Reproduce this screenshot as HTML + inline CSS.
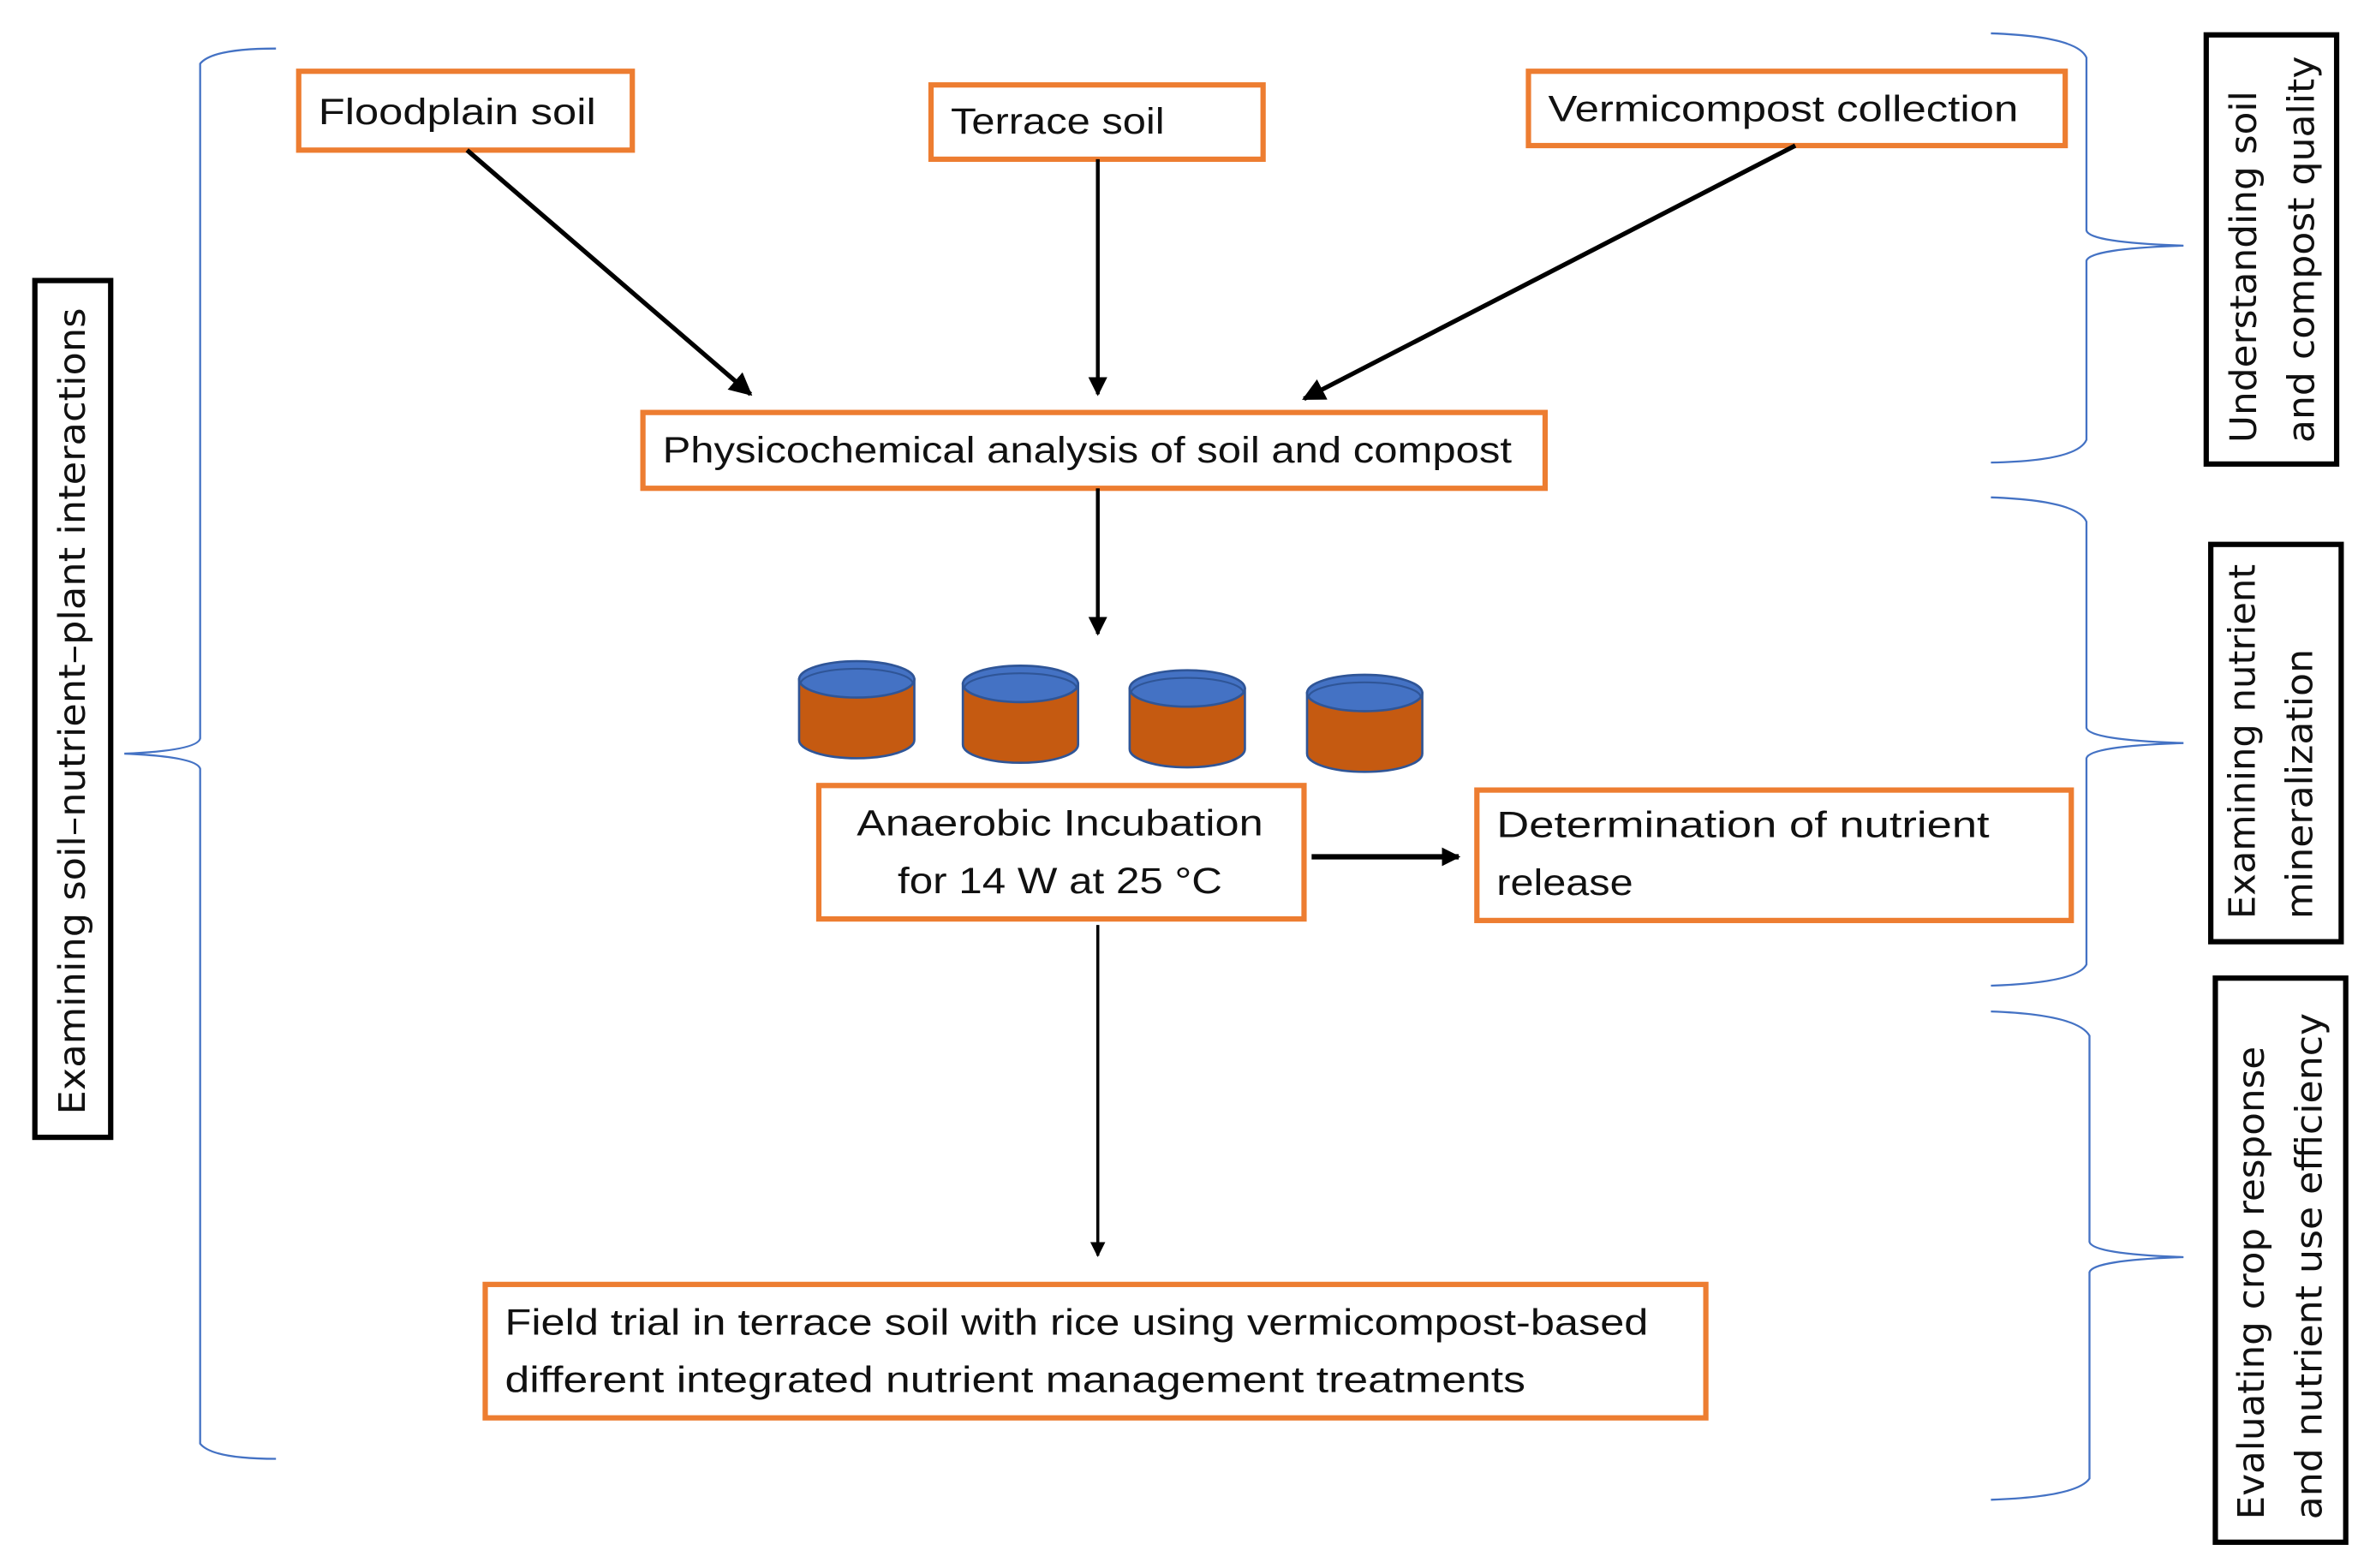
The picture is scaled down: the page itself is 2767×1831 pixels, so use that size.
<!DOCTYPE html>
<html><head><meta charset="utf-8"><style>
html,body{margin:0;padding:0;background:#fff;}
svg{display:block;}
.t{font-family:"Liberation Sans",sans-serif;font-size:24px;fill:#111;}
.r{font-family:"DejaVu Sans","Liberation Sans",sans-serif;font-size:24px;fill:#111;}
.ob{fill:#fff;stroke:#ED7D31;stroke-width:3.5;}
.kb{fill:#fff;stroke:#000;stroke-width:3.5;}
.br{fill:none;stroke:#4472C4;stroke-width:1.3;}
</style></head><body>
<svg width="2767" height="1831" viewBox="0 0 1563 1034" preserveAspectRatio="none" xmlns="http://www.w3.org/2000/svg">
<defs>
<marker id="ah" viewBox="0 0 10 10" refX="9" refY="5" markerWidth="5" markerHeight="5" orient="auto"><path d="M0,0 L10,5 L0,10 z" fill="#000"/></marker>
<marker id="ah2" viewBox="0 0 10 10" refX="9" refY="5" markerWidth="3.5" markerHeight="3.5" orient="auto"><path d="M0,0 L10,5 L0,10 z" fill="#000"/></marker>
<g id="cyl">
<path d="M-38,0 L-38,40 A38,12 0 0 0 38,40 L38,0 Z" fill="#C55A11" stroke="#2F5597" stroke-width="1.5"/>
<ellipse cx="0" cy="0" rx="38" ry="12" fill="#4472C4" stroke="#2F5597" stroke-width="1.5"/>
<path d="M-37,3 A37,10 0 0 1 37,3" fill="none" stroke="#2F5597" stroke-width="1.2"/>
</g>
</defs>

<!-- left bracket -->
<path class="br" d="M182,32 Q140,32 132,42 L132,487 Q130,495 82,497 Q130,499 132,507 L132,952 Q140,962 182,962"/>
<rect class="kb" x="23" y="185" width="50" height="565"/>
<text class="r" transform="translate(56,735) rotate(-90)" textLength="532" lengthAdjust="spacingAndGlyphs">Examining soil–nutrient–plant interactions</text>

<!-- right brackets -->
<path class="br" d="M1313,22 Q1370,24 1376,38 L1376,152 Q1378,160 1440,162 Q1378,164 1376,172 L1376,290 Q1370,304 1313,305"/>
<path class="br" d="M1313,328 Q1370,330 1376,344 L1376,480 Q1378,488 1440,490 Q1378,492 1376,500 L1376,636 Q1370,648 1313,650"/>
<path class="br" d="M1313,667 Q1370,669 1378,683 L1378,819 Q1380,827 1440,829 Q1380,831 1378,839 L1378,975 Q1370,987 1313,989"/>

<rect class="kb" x="1455" y="23" width="86" height="283"/>
<text class="r" transform="translate(1488,292) rotate(-90)" textLength="232" lengthAdjust="spacingAndGlyphs">Understanding soil</text>
<text class="r" transform="translate(1526,292) rotate(-90)" textLength="255" lengthAdjust="spacingAndGlyphs">and compost quality</text>

<rect class="kb" x="1458" y="359" width="86" height="262"/>
<text class="r" transform="translate(1487,606) rotate(-90)" textLength="234" lengthAdjust="spacingAndGlyphs">Examining nutrient</text>
<text class="r" transform="translate(1525,606) rotate(-90)" textLength="178" lengthAdjust="spacingAndGlyphs">mineralization</text>

<rect class="kb" x="1461" y="645" width="86" height="372"/>
<text class="r" transform="translate(1493,1002) rotate(-90)" textLength="312" lengthAdjust="spacingAndGlyphs">Evaluating crop response</text>
<text class="r" transform="translate(1531,1002) rotate(-90)" textLength="334" lengthAdjust="spacingAndGlyphs">and nutrient use efficiency</text>

<!-- boxes -->
<rect class="ob" x="197" y="47" width="220" height="52"/>
<text class="t" x="210" y="82" textLength="183" lengthAdjust="spacingAndGlyphs">Floodplain soil</text>
<rect class="ob" x="614" y="56" width="219" height="49"/>
<text class="t" x="627" y="88" textLength="141" lengthAdjust="spacingAndGlyphs">Terrace soil</text>
<rect class="ob" x="1008" y="47" width="354" height="49"/>
<text class="t" x="1021" y="80" textLength="310" lengthAdjust="spacingAndGlyphs">Vermicompost collection</text>
<rect class="ob" x="424" y="272" width="595" height="50"/>
<text class="t" x="437" y="305" textLength="560" lengthAdjust="spacingAndGlyphs">Physicochemical analysis of soil and compost</text>

<line x1="308" y1="99" x2="495" y2="260" stroke="#000" stroke-width="3" marker-end="url(#ah)"/>
<line x1="724" y1="105" x2="724" y2="260" stroke="#000" stroke-width="2.5" marker-end="url(#ah)"/>
<line x1="1184" y1="96" x2="860" y2="263" stroke="#000" stroke-width="3" marker-end="url(#ah)"/>
<line x1="724" y1="322" x2="724" y2="418" stroke="#000" stroke-width="2.5" marker-end="url(#ah)"/>

<use href="#cyl" x="565" y="448"/>
<use href="#cyl" x="673" y="451"/>
<use href="#cyl" x="783" y="454"/>
<use href="#cyl" x="900" y="457"/>

<rect class="ob" x="540" y="518" width="320" height="88"/>
<text class="t" x="565" y="551" textLength="268" lengthAdjust="spacingAndGlyphs">Anaerobic Incubation</text>
<text class="t" x="592" y="589" textLength="214" lengthAdjust="spacingAndGlyphs">for 14 W at 25 °C</text>

<line x1="865" y1="565" x2="962" y2="565" stroke="#000" stroke-width="3.5" marker-end="url(#ah2)"/>

<rect class="ob" x="974" y="521" width="392" height="86"/>
<text class="t" x="987" y="552" textLength="325" lengthAdjust="spacingAndGlyphs">Determination of nutrient</text>
<text class="t" x="987" y="590" textLength="90" lengthAdjust="spacingAndGlyphs">release</text>

<line x1="724" y1="610" x2="724" y2="828" stroke="#000" stroke-width="2" marker-end="url(#ah)"/>

<rect class="ob" x="320" y="847" width="805" height="88"/>
<text class="t" x="333" y="880" textLength="754" lengthAdjust="spacingAndGlyphs">Field trial in terrace soil with rice using vermicompost-based</text>
<text class="t" x="333" y="918" textLength="673" lengthAdjust="spacingAndGlyphs">different integrated nutrient management treatments</text>
</svg>
</body></html>
